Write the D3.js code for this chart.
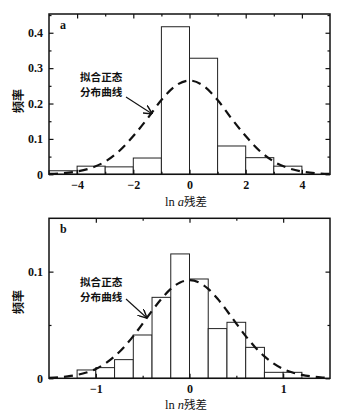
<!DOCTYPE html>
<html><head><meta charset="utf-8">
<script src="https://cdn.jsdelivr.net/npm/d3@7"></script>
<style>
body{margin:0;background:#fff;}
svg{display:block;}
.tl{font-family:"Liberation Serif","DejaVu Serif",serif;font-weight:bold;font-size:12px;fill:#111;}
.cjk{font-family:"Noto Sans CJK SC",sans-serif;font-size:11px;fill:#111;font-weight:bold;}
</style></head>
<body>
<script>
// Panel a data
const aBinStarts = [-5,-4,-3,-2,-1,0,1,2,3];
const aBinWidth = 1;
const aFreq = [0.010,0.023,0.021,0.046,0.417,0.328,0.080,0.047,0.023];
const aCurveX = [-5,-4.5,-4,-3.5,-3,-2.5,-2,-1.5,-1,-0.5,0,0.5,1,1.5,2,2.5,3,3.5,4,4.5,5];
const aCurveY = [0.001,0.003,0.008,0.018,0.036,0.066,0.108,0.157,0.210,0.250,0.265,0.250,0.210,0.157,0.108,0.066,0.036,0.018,0.008,0.003,0.001];
const aXTicks = [-4,-2,0,2,4];
const aYTicks = [0,0.1,0.2,0.3,0.4];

// Panel b data
const bBinStarts = [-1.2,-1.0,-0.8,-0.6,-0.4,-0.2,0,0.2,0.4,0.6,0.8,1.0];
const bBinWidth = 0.2;
const bFreq = [0.0078,0.0100,0.0175,0.0406,0.0759,0.1166,0.0931,0.0466,0.0525,0.0290,0.0056,0.0056];
const bCurveX = [-1.5,-1.4,-1.3,-1.2,-1.1,-1.0,-0.9,-0.8,-0.7,-0.6,-0.5,-0.4,-0.3,-0.2,-0.1,0,0.1,0.2,0.3,0.4,0.5,0.6,0.7,0.8,0.9,1.0,1.1,1.2,1.3,1.4,1.5];
const bCurveY = [0.0005,0.0009,0.0018,0.0032,0.0054,0.0088,0.0138,0.0206,0.0292,0.0396,0.0513,0.0633,0.0745,0.0838,0.0899,0.0920,0.0899,0.0838,0.0745,0.0633,0.0513,0.0396,0.0292,0.0206,0.0138,0.0088,0.0054,0.0032,0.0018,0.0009,0.0005];
const bXTicks = [-1,0,1];
const bYTicks = [0,0.1];

const svg = d3.select("body").append("svg").attr("width",356).attr("height",413);
svg.append("defs").append("marker")
  .attr("id","arr").attr("viewBox","0 0 10 10").attr("refX",9).attr("refY",5)
  .attr("markerWidth",9).attr("markerHeight",9).attr("orient","auto").attr("markerUnits","userSpaceOnUse")
  .append("path").attr("d","M0,0 L10,5 L0,10").attr("fill","none").attr("stroke","#111").attr("stroke-width",1.6);

function panel(o){
  const g = svg.append("g");
  const x = d3.scaleLinear().domain(o.xDom).range([o.left,o.right]);
  const y = d3.scaleLinear().domain(o.yDom).range([o.bottom,o.top]);
  // bars
  g.selectAll("rect.bar").data(o.starts.map((s,i)=>({s,v:o.freq[i]}))).enter().append("rect")
    .attr("x",d=>x(d.s)).attr("width",d=>x(d.s+o.w)-x(d.s))
    .attr("y",d=>y(d.v)).attr("height",d=>y(0)-y(d.v))
    .attr("fill","#fff").attr("stroke","#222").attr("stroke-width",1);
  // curve
  const line = d3.line().x(d=>x(d[0])).y(d=>y(d[1])).curve(d3.curveMonotoneX);
  g.append("path").datum(o.cx.map((v,i)=>[v,o.cy[i]])).attr("d",line)
    .attr("fill","none").attr("stroke","#111").attr("stroke-width",2.2).attr("stroke-dasharray","9,6");
  // axes ticks inward
  const bottomAx = d3.axisBottom(x).tickValues(o.xMinor).tickSize(-2.5).tickFormat("");
  const bottomMaj = d3.axisBottom(x).tickValues(o.xTicks).tickSize(-4.5).tickPadding(6)
    .tickFormat(d=>d<0?"\u2212"+Math.abs(d):String(d));
  const topAx = d3.axisTop(x).tickValues(o.xMinor).tickSize(-2.5).tickFormat("");
  const topMaj = d3.axisTop(x).tickValues(o.xTicks).tickSize(-4.5).tickFormat("");
  const leftMin = d3.axisLeft(y).tickValues(o.yMinor).tickSize(-2.5).tickFormat("");
  const leftMaj = d3.axisLeft(y).tickValues(o.yTicks).tickSize(-4.5).tickPadding(6).tickFormat(d=>d===0?"0":d3.format(".1f")(d));
  const rightMin = d3.axisRight(y).tickValues(o.yMinor).tickSize(-2.5).tickFormat("");
  const rightMaj = d3.axisRight(y).tickValues(o.yTicks).tickSize(-4.5).tickFormat("");
  const add=(ax,tr)=>{const a=g.append("g").attr("transform",tr).call(ax);a.select(".domain").remove();
    a.selectAll("line").attr("stroke","#111").attr("stroke-width",1.2);
    a.selectAll("text").attr("class","tl").attr("font-family",null).attr("font-size",null).attr("fill",null);return a;};
  add(bottomAx,`translate(0,${o.bottom})`);
  add(bottomMaj,`translate(0,${o.bottom})`);
  add(topAx,`translate(0,${o.top})`);
  add(topMaj,`translate(0,${o.top})`);
  add(leftMin,`translate(${o.left},0)`);
  add(leftMaj,`translate(${o.left},0)`);
  add(rightMin,`translate(${o.right},0)`);
  add(rightMaj,`translate(${o.right},0)`);
  // frame
  g.append("rect").attr("x",o.left).attr("y",o.top).attr("width",o.right-o.left).attr("height",o.bottom-o.top)
    .attr("fill","none").attr("stroke","#111").attr("stroke-width",1.5);
  // panel letter
  g.append("text").attr("class","tl").attr("x",o.left+11).attr("y",o.top+15).attr("font-size","11px").text(o.letter);
  // y label
  g.append("text").attr("class","cjk").style("font-size","12px").attr("transform",`translate(${o.ylx},${o.yly}) rotate(-90)`)
    .attr("text-anchor","middle").attr("dy","0.35em").text("频率");
  // x label
  const xl = g.append("text").attr("class","tl").attr("x",o.xlx).attr("y",o.xly).attr("text-anchor","middle")
    .style("font-weight","normal").style("font-size","12.5px");
  xl.append("tspan").text("ln ");
  xl.append("tspan").style("font-style","italic").text(o.varName);
  xl.append("tspan").attr("class","cjk").style("font-size","11.5px").style("font-weight","normal").text("残差");
  // annotation
  g.append("text").attr("class","cjk").style("font-size","10.6px").attr("x",o.annX).attr("y",o.annY-0.5).text("拟合正态");
  g.append("text").attr("class","cjk").style("font-size","10.6px").attr("x",o.annX).attr("y",o.annY+14.8).text("分布曲线");
  g.append("line").attr("x1",o.arr[0]).attr("y1",o.arr[1]).attr("x2",x(o.arrTip[0])).attr("y2",y(o.arrTip[1]))
    .attr("stroke","#111").attr("stroke-width",1.1).attr("marker-end","url(#arr)");
}

panel({xDom:[-5,5],yDom:[0,0.453],left:49,right:330,top:14,bottom:174.3,
  starts:aBinStarts,w:aBinWidth,freq:aFreq,cx:aCurveX,cy:aCurveY,
  xTicks:aXTicks,xMinor:[-3,-1,1,3],yTicks:aYTicks,yMinor:[0.05,0.15,0.25,0.35,0.45],
  letter:"a",ylx:19,yly:101,xlx:186,xly:206,varName:"a",
  annX:80,annY:81,arr:[126,97],arrTip:[-1.35,0.172]});

panel({xDom:[-1.5,1.5],yDom:[0,0.15],left:49,right:330,top:218.3,bottom:378.3,
  starts:bBinStarts,w:bBinWidth,freq:bFreq,cx:bCurveX,cy:bCurveY,
  xTicks:bXTicks,xMinor:[-0.5,0.5],yTicks:bYTicks,yMinor:[0.05],
  letter:"b",ylx:19,yly:302,xlx:186,xly:409,varName:"n",
  annX:80,annY:286,arr:[126,299],arrTip:[-0.46,0.057]});
</script>
</body></html>
